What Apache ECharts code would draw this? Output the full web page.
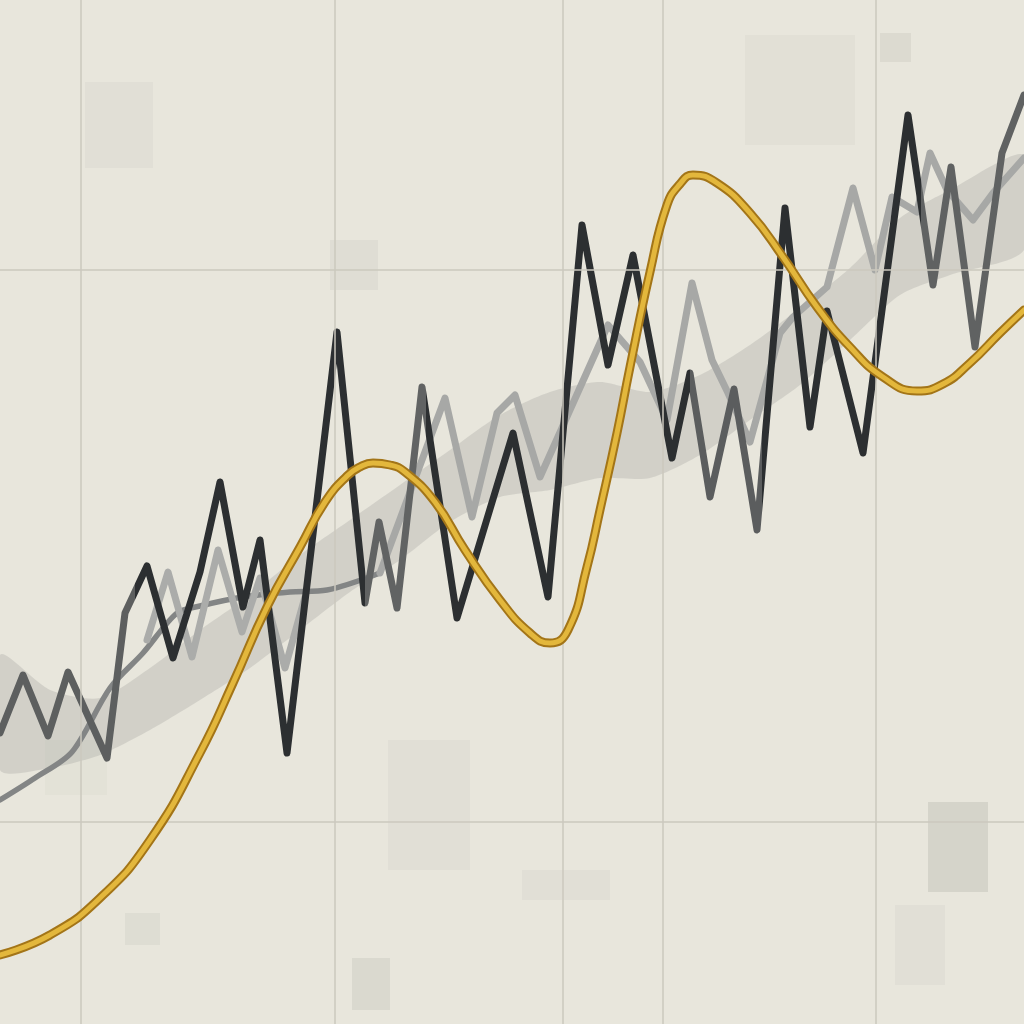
<!DOCTYPE html>
<html>
<head>
<meta charset="utf-8">
<script src="https://cdn.jsdelivr.net/npm/echarts@6/dist/echarts.min.js"></script>
<style>
html,body{margin:0;padding:0;background:#e8e6dc;}
#c{width:1024px;height:1024px;}
</style>
</head>
<body>
<div id="c"></div>
<script>
// ---- data (x position along the axis, y level) ----
var darkX = [0,23,48,68,107,125,147,173,200,220,243,260,287,337,365,379,397,422,457,513,548,582,608,633,672,690,710,734,757,785,810,827,863,908,933,951,975,1002,1024];
var darkY = [291,349,288,352,266,411,458,366,452,542,417,484,271,692,421,502,416,637,406,591,427,799,659,769,566,651,527,635,494,816,597,713,571,909,739,857,677,871,929];

var trendX = [0,35,72,110,143,177,200,243,290,327,380];
var trendY = [224,246,272,336,371,411,418,427,432,434,451];

var lightLeftX = [147,168,192,218,242,260,285,305];
var lightLeftY = [384,452,367,474,392,446,356,427];

var lightX = [380,445,472,497,515,540,608,640,667,692,712,728,750,780,793,827,853,875,892,917,930,947,973,993,1024];
var lightY = [451,626,507,611,629,547,699,662,604,741,664,631,582,691,707,737,836,754,827,812,871,834,804,831,866];

var goldX = [0,50,100,150,200,233,267,300,325,347,360,373,390,405,435,465,500,530,550,568,587,600,617,630,650,667,680,693,717,750,783,817,850,883,917,943,970,1000,1024];
var goldY = [69,89,126,184,271,341,417,477,522,548,557,561,559,552,522,474,424,391,381,394,457,514,591,657,752,819,840,849,841,811,767,717,677,647,633,640,661,691,714];

var bandX = [0,50,100,150,200,250,300,350,400,450,500,550,600,650,700,750,800,850,900,950,1024];
var bandLow = [254,256,269,294,324,356,394,432,464,502,527,534,546,546,569,604,639,684,729,749,774];
var bandHigh = [369,334,326,356,394,429,469,504,539,574,609,632,642,632,649,679,716,756,806,834,869];

var gridX = [81,335,563,663,876];
var gridY = [754,202];

function pairs(xs, ys){ return xs.map(function(x,i){ return [x, ys[i]]; }); }

var chart = echarts.init(document.getElementById('c'));

var gridLines = gridX.map(function(v){ return {xAxis: v}; })
  .concat(gridY.map(function(v){ return {yAxis: v}; }));

function deco(x,y,w,h,op){
  return {type:'rect', silent:true, z:-1, shape:{x:x,y:y,width:w,height:h},
          style:{fill:'rgba(120,120,112,'+op+')'}};
}

var option = {
  backgroundColor: '#e8e6dc',
  animation: false,
  grid: {left:0, right:0, top:0, bottom:0},
  xAxis: {type:'value', min:0, max:1024, show:false},
  yAxis: {type:'value', min:0, max:1024, show:false},
  graphic: [
    deco(85,82,68,86,0.06),
    deco(745,35,110,110,0.05),
    deco(880,33,31,29,0.10),
    deco(330,240,48,50,0.07),
    deco(388,740,82,130,0.06),
    deco(45,740,62,55,0.04),
    deco(928,802,60,90,0.16),
    deco(895,905,50,80,0.06),
    deco(522,870,88,30,0.06),
    deco(352,958,38,52,0.12),
    deco(125,913,35,32,0.08)
  ],
  visualMap: [{
    type:'piecewise', show:false, dimension:0, seriesIndex:5,
    pieces:[
      {lt:135, color:'#5d5f5f'},
      {gte:135, lt:365, color:'#2c2f31'},
      {gte:365, lt:426, color:'#616363'},
      {gte:426, lt:690, color:'#2c2f31'},
      {gte:690, lt:762, color:'#5b5d5e'},
      {gte:762, lt:921, color:'#2c2f31'},
      {gte:921, color:'#606262'}
    ]
  }],
  series: [
    { // grid lines
      type:'line', data: [[0,0]], symbol:'none', lineStyle:{width:0, opacity:0}, silent:true, z:0,
      markLine:{silent:true, symbol:'none', label:{show:false},
        lineStyle:{color:'#cbc9be', width:1.5, type:'solid'}, data: gridLines}
    },
    { // band
      type:'custom', data:[0], silent:true, z:1,
      renderItem: function(params, api){
        var pts = [];
        for (var i=0;i<bandX.length;i++) pts.push(api.coord([bandX[i], bandHigh[i]]));
        for (var j=bandX.length-1;j>=0;j--) pts.push(api.coord([bandX[j], bandLow[j]]));
        return {type:'polygon', shape:{points:pts, smooth:0.25},
                style:{fill:'rgba(160,160,155,0.30)'}};
      }
    },
    { // smooth trend
      type:'line', data: pairs(trendX, trendY), smooth:0.3, symbol:'none',
      lineStyle:{color:'#838585', width:5.5, cap:'round', join:'round'}, z:3
    },
    { // light zigzag left
      type:'line', data: pairs(lightLeftX, lightLeftY), symbol:'none',
      lineStyle:{color:'#abacaa', width:7, cap:'round', join:'round'}, z:3
    },
    { // light zigzag right
      type:'line', data: pairs(lightX, lightY), symbol:'none',
      lineStyle:{color:'#a7a8a6', width:7, cap:'round', join:'round'}, z:3
    },
    { // dark zigzag
      type:'line', data: pairs(darkX, darkY), symbol:'none',
      lineStyle:{width:7, cap:'round', join:'round'}, z:4
    },
    { // gold outline
      type:'line', data: pairs(goldX, goldY), smooth:0.5, symbol:'none',
      lineStyle:{color:'#a37518', width:9, cap:'round', join:'round'}, z:5
    },
    { // gold core
      type:'line', data: pairs(goldX, goldY), smooth:0.5, symbol:'none',
      lineStyle:{color:'#e3b73c', width:5, cap:'round', join:'round'}, z:6
    }
  ]
};
chart.setOption(option);
</script>
</body>
</html>
